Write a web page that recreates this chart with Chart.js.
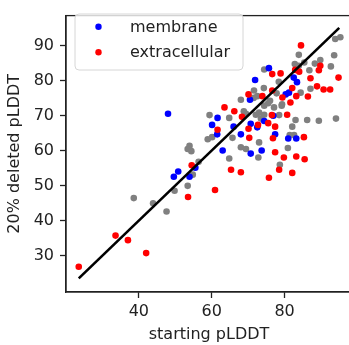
<!DOCTYPE html>
<html>
<head>
<meta charset="utf-8">
<script src="https://cdn.jsdelivr.net/npm/chart.js@4"></script>
<style>
  html, body { margin: 0; padding: 0; background: #fff; overflow: hidden; width: 349px; height: 345px; }
  #wrap { position: absolute; left: 0; top: 0; width: 356px; height: 345px; }
</style>
</head>
<body>
<div id="wrap"><canvas id="c" width="356" height="345"></canvas></div>
<script>
// ---- data ----
const seriesNames = ['membrane', 'extracellular'];

const grayX = [38.6, 43.9, 47.6, 49.8, 53.4, 53.4, 53.9, 54.4, 56.4, 54.8, 58.9, 60.1, 59.4, 64.8, 69.4, 68.0, 72.8, 73.0, 64.8, 65.7,
               69.4, 72.1, 73.5, 74.4, 74.4, 68.0, 72.5, 75.5, 77.1, 79.2, 78.5, 78.7, 80.9, 81.4, 82.6, 82.1, 83.0, 86.2, 89.4, 94.1,
               74.4, 71.6, 74.3, 78.4, 84.4, 86.8, 85.4, 82.8, 83.9, 83.9, 89.8, 92.7, 93.6, 93.9, 95.3, 88.3, 87.1, 76.0, 79.3, 73.0,
               71.5, 77.8, 68.8];
const grayY = [46.4, 44.9, 42.6, 48.5, 49.9, 60.4, 61.3, 59.8, 56.8, 53.1, 63.2, 63.8, 70.1, 57.7, 60.4, 60.9, 58.0, 62.3, 69.3, 63.6,
               70.5, 70.2, 69.1, 70.2, 72.8, 74.5, 75.5, 73.5, 72.3, 72.8, 70.1, 55.9, 60.7, 64.4, 64.4, 66.8, 68.7, 68.7, 68.5, 69.1,
               83.1, 77.1, 77.8, 79.6, 76.5, 82.9, 85.1, 84.7, 84.2, 87.3, 85.8, 84.0, 87.2, 91.8, 92.3, 84.8, 77.6, 74.2, 73.2, 70.8,
               75.0, 76.3, 71.2];

const blueX = [48.0, 49.6, 50.8, 53.9, 55.5, 63.0, 61.6, 60.1, 61.5, 66.0, 68.0, 70.7, 72.5, 70.7, 73.7, 74.4, 76.9, 77.4, 81.0, 83.2,
               70.5, 71.9, 75.7, 80.3, 81.2, 82.5, 83.4];
const blueY = [70.5, 52.5, 54.0, 52.5, 55.1, 60.0, 69.3, 67.3, 64.6, 66.8, 64.6, 67.6, 66.6, 59.1, 60.0, 68.4, 69.9, 64.6, 63.4, 63.4,
               74.5, 80.1, 83.5, 76.0, 76.5, 80.8, 79.5];

const redX = [23.5, 33.6, 37.0, 42.0, 53.5, 54.5, 60.9, 65.3, 68.0, 75.7, 78.5, 82.1, 77.4, 79.8, 83.2, 85.5, 85.3, 76.8, 70.3, 61.6,
              63.5, 66.2, 68.3, 70.1, 72.7, 75.5, 77.4, 76.5, 80.7, 70.1, 73.9, 79.4, 81.6, 83.2, 86.4, 82.1, 76.6, 78.9, 84.0, 84.5,
              87.1, 88.9, 90.7, 92.5, 94.8, 89.4, 89.8, 82.9, 76.6];
const redY = [26.8, 35.7, 34.4, 30.7, 46.7, 55.8, 48.7, 54.5, 53.8, 52.2, 54.5, 53.6, 59.5, 58.0, 58.3, 57.5, 63.8, 63.5, 63.6, 65.9,
              72.3, 71.2, 69.6, 66.2, 67.3, 67.8, 66.8, 70.1, 70.2, 76.0, 75.5, 75.1, 73.7, 75.5, 75.4, 77.8, 81.8, 82.0, 82.5, 90.0,
              80.6, 78.3, 77.4, 77.4, 80.8, 82.9, 84.2, 83.0, 77.1];

const lineX = [23.5, 95.0];
const lineY = [23.5, 95.0];

const xTicks = [40, 60, 80];
const yTicks = [30, 40, 50, 60, 70, 80, 90];
const xTitle = 'starting pLDDT';
const yTitle = '20% deleted pLDDT';

// ---- build chart ----
const pts = (xs, ys) => xs.map((x, i) => ({ x: x, y: ys[i] }));
const FONT = "'DejaVu Sans', sans-serif";
const INK = '#222222';

const framePlugin = {
  id: 'frame',
  afterDatasetsDraw(chart) {
    const { ctx, chartArea: a } = chart;
    ctx.save();
    ctx.strokeStyle = INK;
    ctx.lineWidth = 1.3;
    ctx.strokeRect(a.left, a.top, a.right - a.left, a.bottom - a.top);
    ctx.restore();
  }
};

const legendPlugin = {
  id: 'boxLegend',
  afterDraw(chart) {
    const { ctx } = chart;
    const x0 = 75, y0 = 14, w = 168, h = 56, r = 4;
    ctx.save();
    ctx.beginPath();
    ctx.moveTo(x0 + r, y0);
    ctx.arcTo(x0 + w, y0, x0 + w, y0 + h, r);
    ctx.arcTo(x0 + w, y0 + h, x0, y0 + h, r);
    ctx.arcTo(x0, y0 + h, x0, y0, r);
    ctx.arcTo(x0, y0, x0 + w, y0, r);
    ctx.closePath();
    ctx.fillStyle = 'rgba(255,255,255,0.8)';
    ctx.fill();
    ctx.strokeStyle = '#d6d6d6';
    ctx.lineWidth = 1;
    ctx.stroke();
    const items = [chart.data.datasets[1], chart.data.datasets[2]];
    const ys = [26.7, 52.3];
    ctx.font = '16px ' + FONT;
    ctx.textBaseline = 'middle';
    ctx.textAlign = 'left';
    items.forEach((ds, i) => {
      ctx.beginPath();
      ctx.arc(98.5, ys[i], 3.2, 0, Math.PI * 2);
      ctx.fillStyle = ds.backgroundColor;
      ctx.fill();
      ctx.fillStyle = INK;
      ctx.fillText(ds.label, 130, ys[i] + 1);
    });
    ctx.restore();
  }
};

new Chart(document.getElementById('c'), {
  type: 'scatter',
  data: {
    datasets: [
      { label: 'diagonal', data: pts(lineX, lineY), showLine: true, borderColor: '#000', borderWidth: 2.6,
        pointRadius: 0, order: 0 },
      { label: seriesNames[0], data: pts(blueX, blueY), backgroundColor: '#0000ff', borderWidth: 0,
        pointRadius: 3.3, order: 2 },
      { label: seriesNames[1], data: pts(redX, redY), backgroundColor: '#ff0000', borderWidth: 0,
        pointRadius: 3.3, order: 1 },
      { label: 'other', data: pts(grayX, grayY), backgroundColor: '#808080', borderWidth: 0,
        pointRadius: 3.3, order: 3 }
    ]
  },
  options: {
    responsive: false,
    animation: false,
    events: [],
    layout: { padding: { left: 0, right: 2, top: 5, bottom: 0 } },
    plugins: { legend: { display: false }, tooltip: { enabled: false } },
    scales: {
      x: {
        type: 'linear', min: 20, max: 98.5,
        afterBuildTicks: s => { s.ticks = xTicks.map(v => ({ value: v })); },
        afterFit: s => { s.height = 53; },
        grid: { display: true, drawOnChartArea: false, drawTicks: true, tickLength: 6, color: INK, tickWidth: 1.3 },
        border: { display: true, color: INK, width: 1.3 },
        ticks: { color: INK, padding: 4, font: { family: FONT, size: 16 }, maxRotation: 0 },
        title: { display: true, text: xTitle, color: INK, font: { family: FONT, size: 16 }, padding: { top: 0, bottom: 1 } }
      },
      y: {
        type: 'linear', min: 19.6, max: 98.5,
        afterBuildTicks: s => { s.ticks = yTicks.map(v => ({ value: v })); },
        afterFit: s => { s.width = 66; },
        grid: { display: true, drawOnChartArea: false, drawTicks: true, tickLength: 6, color: INK, tickWidth: 1.3 },
        border: { display: true, color: INK, width: 1.3 },
        ticks: { color: INK, padding: 6, font: { family: FONT, size: 16 } },
        title: { display: true, text: yTitle, color: INK, font: { family: FONT, size: 16 }, padding: { top: 5, bottom: 0 } }
      }
    }
  },
  plugins: [framePlugin, legendPlugin]
});
</script>
</body>
</html>
